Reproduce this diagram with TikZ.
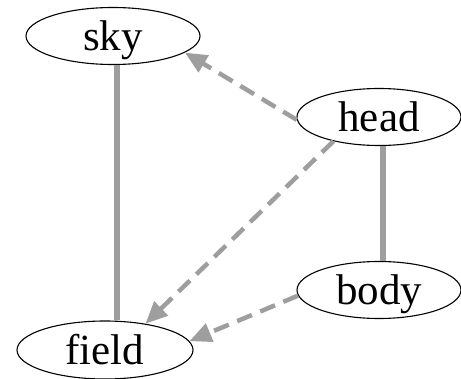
\documentclass[tikz,border=0pt]{standalone}
\usepackage{fontspec}
\setmainfont{Liberation Serif}
\usetikzlibrary{shapes.geometric,arrows.meta}
\definecolor{edgegray}{RGB}{158,158,158}
\tikzset{
  vnode/.style={draw=black, line width=1.1pt, ellipse, inner sep=0pt,
    minimum height=57pt, text height=29pt, text depth=0pt,
    font=\fontsize{43}{50}\selectfont},
  solidlink/.style={draw=edgegray, line width=6pt},
  dashlink/.style={draw=edgegray, line width=4.5pt, dash pattern=on 16pt off 9pt,
    -{Triangle[length=22pt,width=19pt,fill=edgegray]}}
}
\begin{document}
\begin{tikzpicture}[x=1pt,y=1pt]
\useasboundingbox (0,0) rectangle (461,378);
\node[vnode, minimum width=174pt] (sky) at (113,342) {sky};
\node[vnode, minimum width=164pt] (head) at (379,261) {head};
\node[vnode, minimum width=164pt] (body) at (379,88) {body};
\node[vnode, minimum width=176pt, minimum height=58pt] (field) at (105,28) {field};
\draw[solidlink] ([xshift=3.5pt]sky.south) -- ([xshift=11.5pt]field.north);
\draw[solidlink] ([xshift=4pt]head.south) -- ([xshift=4pt]body.north);
\draw[dashlink] (head.182) -- (sky.-13);
\draw[dashlink] (head.208) -- (field.33);
\draw[dashlink] (body.184) -- (field.6);
\end{tikzpicture}
\end{document}
